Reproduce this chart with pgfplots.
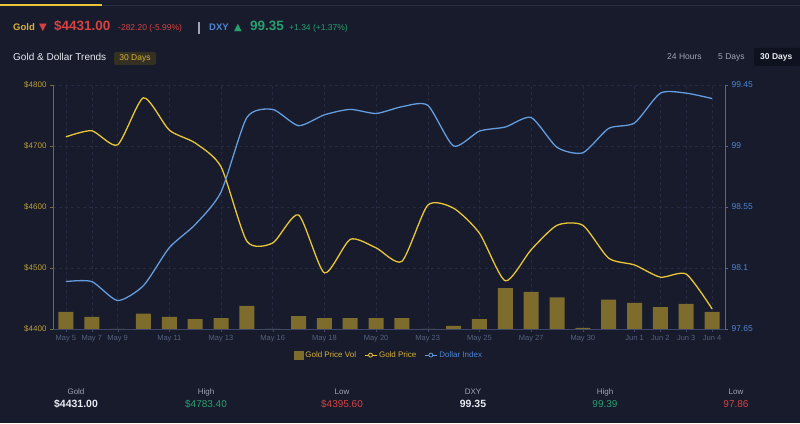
\documentclass[border=0pt]{standalone}
\usepackage{pgfplots}
\pgfplotsset{compat=1.18}
\usepackage{pgfplotstable}
\usepackage{fontspec}
\setmainfont{Liberation Sans}
\newfontfamily\symfont{DejaVu Sans}
\definecolor{bg}{RGB}{23,27,44}
\definecolor{goldline}{RGB}{232,198,56}
\definecolor{goldtxt}{RGB}{214,178,58}
\definecolor{goldtick}{RGB}{190,160,55}
\definecolor{volcol}{RGB}{125,108,44}
\definecolor{blueline}{RGB}{100,156,222}
\definecolor{bluetxt}{RGB}{78,132,210}
\definecolor{gridcol}{RGB}{36,43,66}
\definecolor{xaxcol}{RGB}{62,72,102}
\definecolor{laxcol}{RGB}{120,105,55}
\definecolor{raxcol}{RGB}{82,104,146}
\definecolor{xlab}{RGB}{85,97,125}
\definecolor{redc}{RGB}{214,66,66}
\definecolor{greenc}{RGB}{40,160,110}
\definecolor{whitec}{RGB}{232,234,240}
\definecolor{grayc}{RGB}{160,166,182}
\definecolor{badgebg}{RGB}{52,48,34}
\definecolor{btnbg}{RGB}{14,17,30}
\definecolor{topgray}{RGB}{40,46,66}
\newcommand{\fs}[1]{\fontsize{#1}{#1}\selectfont}

\pgfplotstableread{
idx gold dxy vol
0 4715 98.00 28
1 4725 98.00 20
2 4702 97.86 0
3 4779 97.97 25
4 4726 98.25 20
5 4705 98.42 16
6 4666 98.66 18
7 4544 99.21 38
8 4541 99.27 0
9 4587 99.15 21
10 4492 99.23 18
11 4547 99.27 18
12 4533 99.24 18
13 4511 99.29 18
14 4603 99.30 0
15 4598 99.00 5
16 4557 99.11 16
17 4479 99.14 67
18 4530 99.21 61
19 4570 98.99 52
20 4570 98.95 2
21 4516 99.13 48
22 4505 99.17 43
23 4485 99.39 36
24 4490 99.39 41
25 4433 99.35 28
}\datatable

\pgfplotsset{
  base/.style={
    at={(53pt,94pt)}, anchor=south west,
    width=672pt, height=244pt, scale only axis,
    xmin=-0.5, xmax=25.5,
    xtick={0,1,2,4,6,8,10,12,14,16,18,20,22,23,24,25},
    xticklabels={May 5,May 7,May 9,May 11,May 13,May 16,May 18,May 20,May 23,May 25,May 27,May 30,Jun 1,Jun 2,Jun 3,Jun 4},
    major tick length=3pt, tick align=outside,
  }
}

\begin{document}
\begin{tikzpicture}[x=1pt,y=1pt]
\path[fill=bg, use as bounding box] (0,0) rectangle (800,423);
% top progress line
\draw[line width=1.2pt, color=goldline] (0,418) -- (102,418);
\draw[line width=0.6pt, color=topgray] (102,418) -- (800,418);

% header
\node[anchor=mid west, inner sep=0, text=goldtxt, font=\fs{9.5}\bfseries] at (13,395) {Gold};
\node[anchor=mid west, inner sep=0, text=redc, font=\symfont\fs{10}] at (39,395) {▼};
\node[anchor=mid west, inner sep=0, text=redc, font=\fs{13.5}\bfseries] at (54,395) {\$4431.00};
\node[anchor=mid west, inner sep=0, text=redc, font=\fs{8.5}] at (118,395) {-282.20 (-5.99\%)};
\draw[color=grayc, line width=1.2pt] (199,389) -- (199,401);
\node[anchor=mid west, inner sep=0, text=bluetxt, font=\fs{9.5}\bfseries] at (209,395) {DXY};
\node[anchor=mid west, inner sep=0, text=greenc, font=\symfont\fs{10}] at (234,395) {▲};
\node[anchor=mid west, inner sep=0, text=greenc, font=\fs{13.5}\bfseries] at (250,395) {99.35};
\node[anchor=mid west, inner sep=0, text=greenc, font=\fs{8.5}] at (289,395) {+1.34 (+1.37\%)};

% subtitle
\node[anchor=mid west, inner sep=0, text=whitec, font=\fs{10}] at (13,365) {Gold \& Dollar Trends};
\fill[badgebg, rounded corners=1.5pt] (114,358) rectangle (156,371);
\node[anchor=mid, inner sep=0, text=goldtxt, font=\fs{8.5}] at (135,365) {30 Days};

% range buttons
\node[anchor=mid west, inner sep=0, text=grayc, font=\fs{8.5}] at (667,366) {24 Hours};
\node[anchor=mid west, inner sep=0, text=grayc, font=\fs{8.5}] at (718,366) {5 Days};
\fill[btnbg, rounded corners=2pt] (754,357) rectangle (800,375);
\node[anchor=mid west, inner sep=0, text=whitec, font=\fs{8.5}\bfseries] at (760,366) {30 Days};

% volume axis (with grid)
\begin{axis}[base,
  ymin=0, ymax=400, ytick={100,200,300,400},
  xticklabels={}, yticklabels={},
  axis x line*=bottom, axis y line*=left,
  axis line style={draw=none}, tick style={draw=none},
  xmajorgrids, ymajorgrids,
  grid style={dashed, color=gridcol, line width=0.5pt},
]
\addplot[ybar, bar width=15pt, fill=volcol, draw=none, bar shift=0pt] table[x=idx, y=vol] {\datatable};
\end{axis}

% gold axis
\begin{axis}[base,
  ymin=4400, ymax=4800, ytick={4400,4500,4600,4700,4800},
  yticklabels={\$4400,\$4500,\$4600,\$4700,\$4800},
  axis x line*=bottom, axis y line*=left,
  x axis line style={-, color=xaxcol, line width=0.8pt},
  y axis line style={-, color=laxcol, line width=0.8pt},
  x tick style={color=xaxcol},
  y tick style={color=laxcol},
  xticklabel style={text=xlab, font=\fs{7.5}},
  yticklabel style={text=goldtick, font=\fs{8}},
]
\addplot[color=goldline, line width=1.3pt, smooth, tension=0.4] table[x=idx, y=gold] {\datatable};
\end{axis}

% DXY axis
\begin{axis}[base,
  ymin=97.65, ymax=99.45, ytick={97.65,98.1,98.55,99,99.45},
  yticklabels={97.65,98.1,98.55,99,99.45},
  axis y line*=right, axis x line=none,
  y axis line style={-, color=raxcol, line width=0.8pt},
  y tick style={color=raxcol},
  yticklabel style={text=bluetxt, font=\fs{8.5}},
  legend style={at={(0.5,-0.107)}, anchor=center, draw=none, fill=none,
    font=\fs{8}, legend columns=3, inner sep=0pt,
    /tikz/every even column/.append style={column sep=6pt}},
  legend cell align=left,
]
\addlegendimage{legend image code/.code={\fill[volcol] (0pt,-4pt) rectangle (9pt,4pt);}}
\addlegendentry{\textcolor{goldtxt}{Gold Price Vol}}
\addlegendimage{legend image code/.code={\draw[goldline, line width=1pt] (0pt,0pt) -- (12pt,0pt); \draw[goldline, line width=0.8pt, fill=bg] (6pt,0pt) circle (2pt);}}
\addlegendentry{\textcolor{goldtxt}{Gold Price}}
\addlegendimage{legend image code/.code={\draw[blueline, line width=1pt] (0pt,0pt) -- (12pt,0pt); \draw[blueline, line width=0.8pt, fill=bg] (6pt,0pt) circle (2pt);}}
\addlegendentry{\textcolor{bluetxt}{Dollar Index}}
\addplot[color=blueline, line width=1.3pt, smooth, tension=0.4] table[x=idx, y=dxy] {\datatable};
\end{axis}

% bottom stats
\foreach \x/\lab in {76/Gold, 206/High, 342/Low, 473/DXY, 605/High, 736/Low} {
  \node[anchor=mid, inner sep=0, text=grayc, font=\fs{8}] at (\x,31) {\lab};
}
\node[anchor=mid, inner sep=0, text=whitec, font=\fs{10.5}\bfseries] at (76,18) {\$4431.00};
\node[anchor=mid, inner sep=0, text=greenc, font=\fs{10}] at (206,18) {\$4783.40};
\node[anchor=mid, inner sep=0, text=redc, font=\fs{10}] at (342,18) {\$4395.60};
\node[anchor=mid, inner sep=0, text=whitec, font=\fs{10.5}\bfseries] at (473,18) {99.35};
\node[anchor=mid, inner sep=0, text=greenc, font=\fs{10}] at (605,18) {99.39};
\node[anchor=mid, inner sep=0, text=redc, font=\fs{10}] at (736,18) {97.86};
\end{tikzpicture}
\end{document}
